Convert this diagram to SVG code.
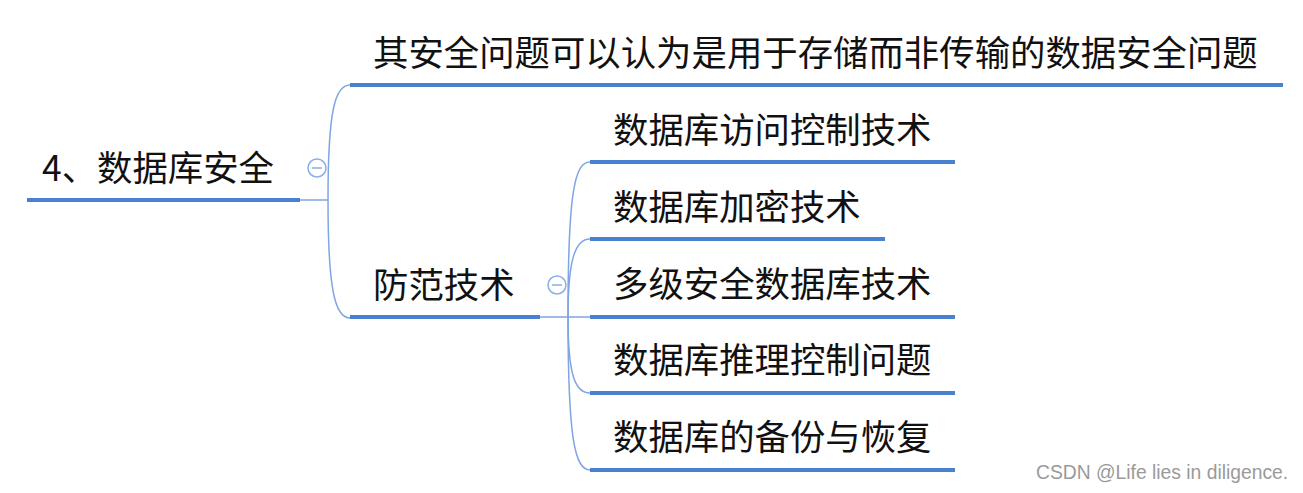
<svg xmlns="http://www.w3.org/2000/svg" width="1303" height="493" viewBox="0 0 1303 493">
<style>
.t{font-family:"Noto Sans CJK SC","Liberation Sans",sans-serif;font-size:35.4px;fill:#111}
.u{stroke:#4a80d0;stroke-width:4;fill:none}
.c{stroke:#7fa6e2;stroke-width:1.5;fill:none}
.k{fill:#fff;stroke:#8aaee6;stroke-width:1.5}
.km{stroke:#8aaee6;stroke-width:1.5}
.w{font-family:"Liberation Sans",sans-serif;font-size:19.3px;fill:#9a9a9a}
</style>
<rect width="1303" height="493" fill="#fff"/>
<g id="connectors">
<path class="c" d="M300 200 H328"/>
<path class="c" d="M328 200 C328 110 335 85 350 85"/>
<path class="c" d="M328 200 C328 290 335 318 350 318"/>
<path class="c" d="M540 317 H568"/>
<path class="c" d="M568 317 C568 190 575 162 590 162"/>
<path class="c" d="M568 317 C568 260 575 239 590 239"/>
<path class="c" d="M568 317 H590"/>
<path class="c" d="M568 317 C568 375 575 393 590 393"/>
<path class="c" d="M568 317 C568 440 575 470 590 470"/>
</g>
<g id="root">
<text class="t" x="42" y="181">4、数据库安全</text>
<path class="u" d="M27 200 H300"/>
<circle class="k" cx="317" cy="168" r="9"/>
<path class="km" d="M312 168 H322"/>
</g>
<g id="n-storage">
<text class="t" x="373" y="66">其安全问题可以认为是用于存储而非传输的数据安全问题</text>
<path class="u" d="M350 85 H1283"/>
</g>
<g id="n-defense">
<text class="t" x="373" y="298">防范技术</text>
<path class="u" d="M350 317 H540"/>
<circle class="k" cx="557" cy="285" r="9"/>
<path class="km" d="M552 285 H562"/>
</g>
<g id="n-access">
<text class="t" x="613" y="143">数据库访问控制技术</text>
<path class="u" d="M590 162 H955"/>
</g>
<g id="n-encrypt">
<text class="t" x="613" y="220">数据库加密技术</text>
<path class="u" d="M590 239 H885"/>
</g>
<g id="n-multilevel">
<text class="t" x="613" y="297">多级安全数据库技术</text>
<path class="u" d="M590 317 H955"/>
</g>
<g id="n-inference">
<text class="t" x="613" y="373">数据库推理控制问题</text>
<path class="u" d="M590 393 H955"/>
</g>
<g id="n-backup">
<text class="t" x="613" y="450">数据库的备份与恢复</text>
<path class="u" d="M590 470 H955"/>
</g>
<text class="w" x="1036" y="479">CSDN @Life lies in diligence.</text>
</svg>
